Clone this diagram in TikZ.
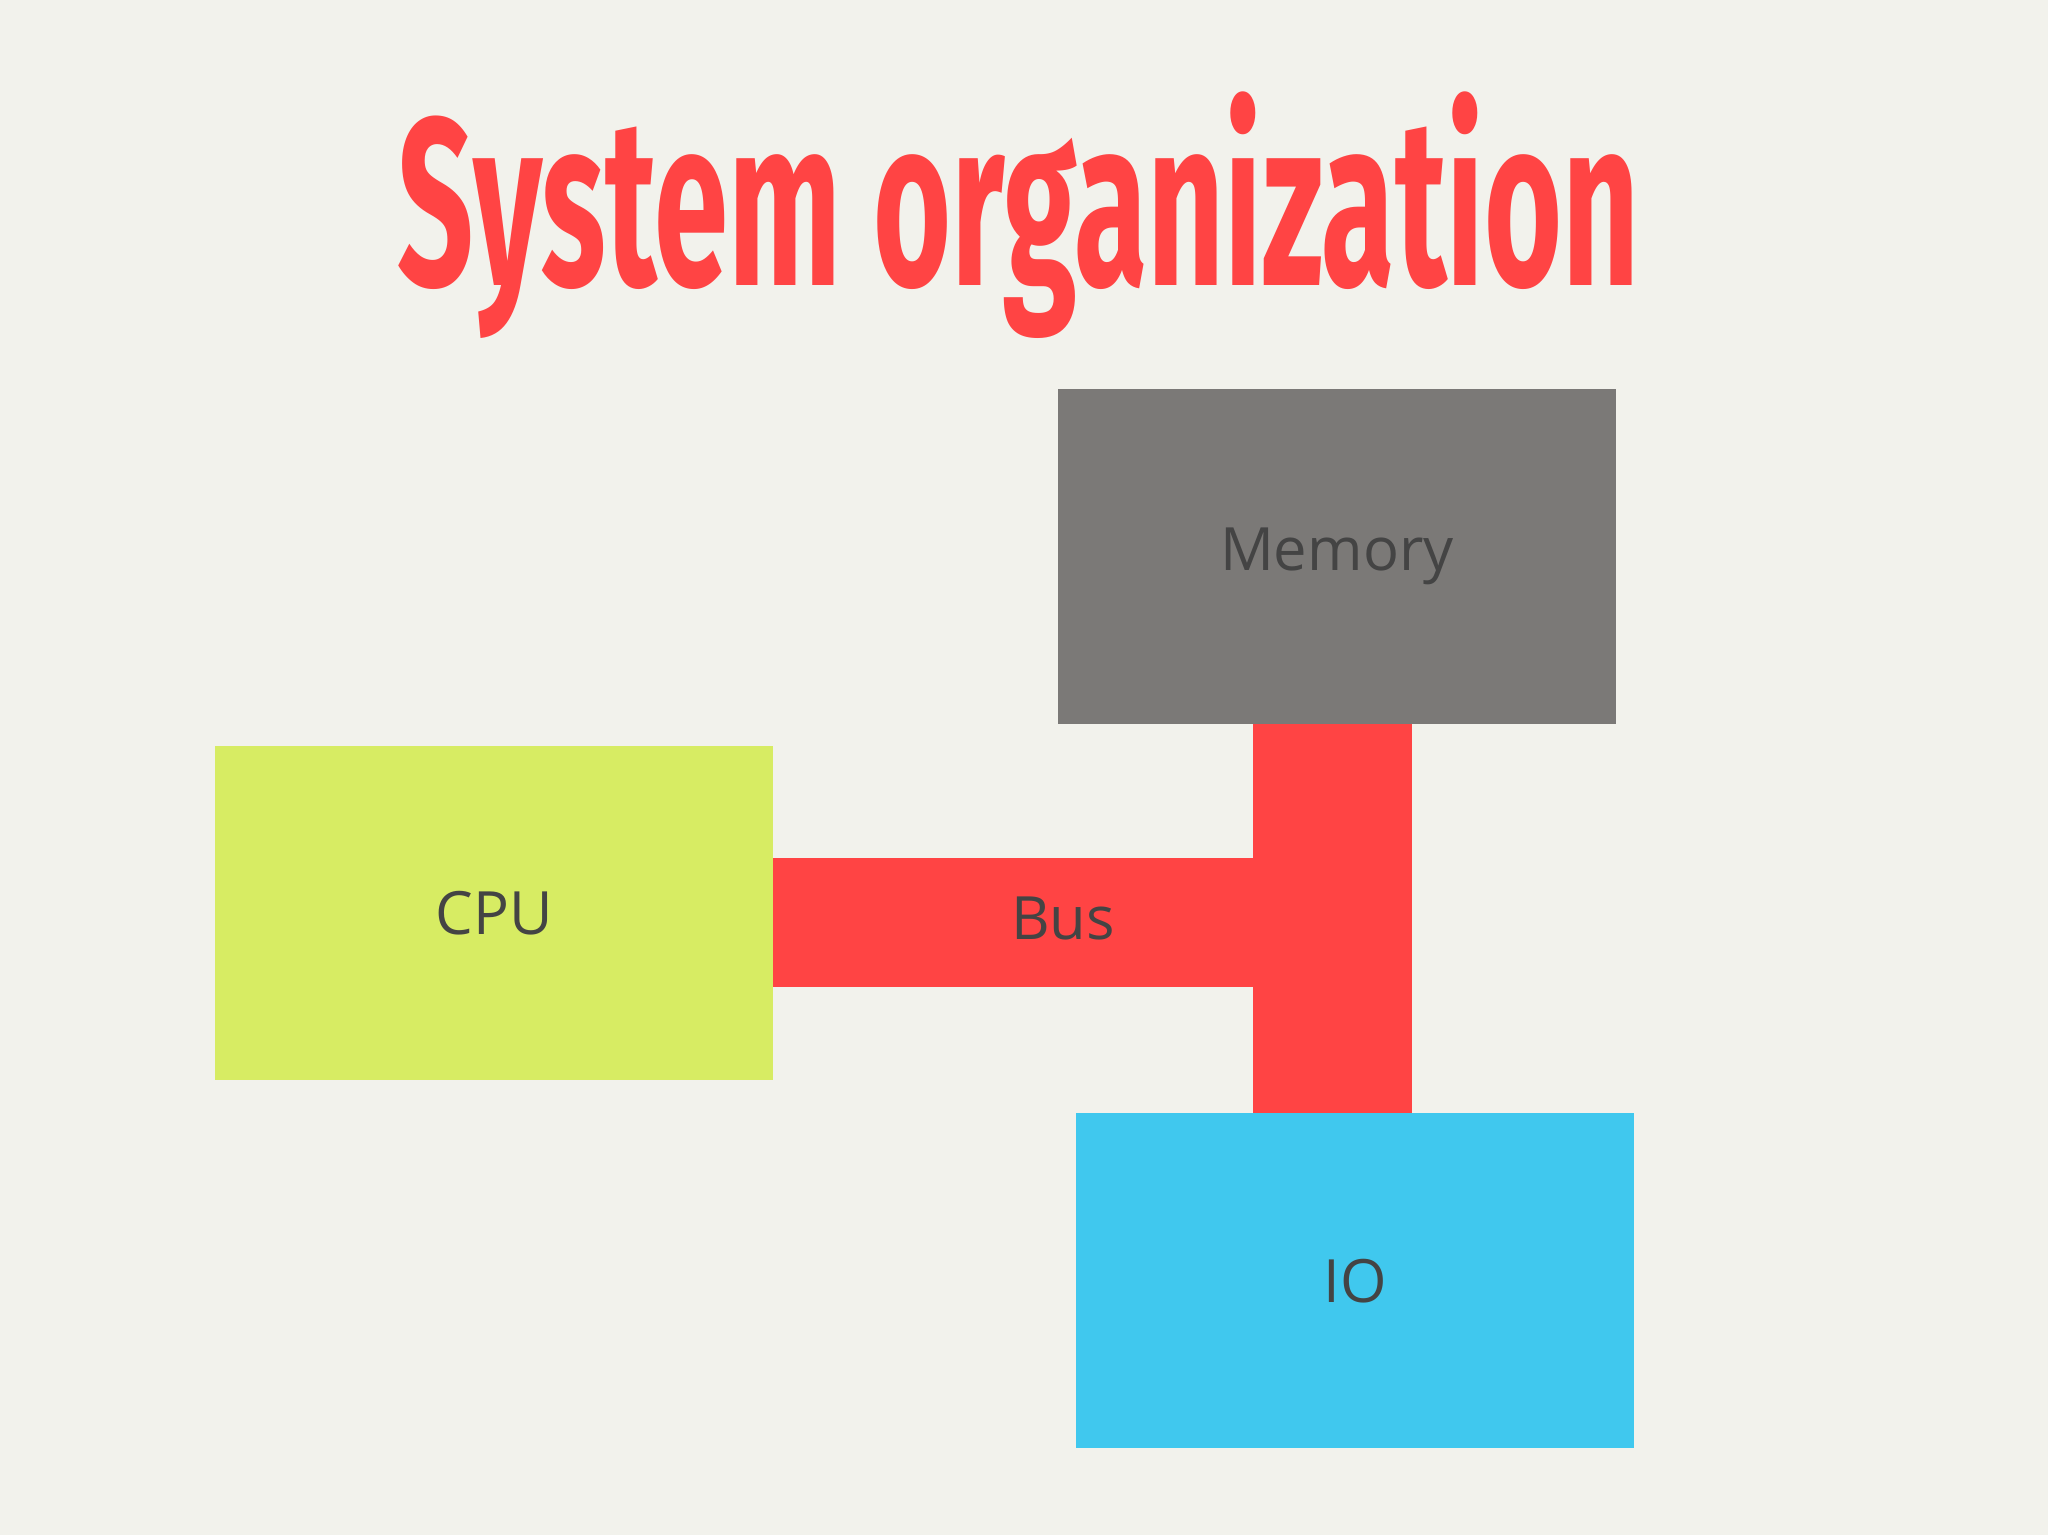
\documentclass[tikz,border=0pt]{standalone}
\usepackage{fontspec}
\setmainfont{Open Sans}
\newfontfamily\titlefont{Fira Sans}
\definecolor{bg}{HTML}{F2F2EC}
\definecolor{busred}{HTML}{FF4444}
\definecolor{memgray}{HTML}{7B7977}
\definecolor{cpugreen}{HTML}{D7EC63}
\definecolor{iocyan}{HTML}{40C8EE}
\definecolor{txt}{HTML}{444444}
\begin{document}
\begin{tikzpicture}[x=0.01cm,y=-0.01cm,
  blk/.style={draw=none,minimum width=4.27cm,minimum height=2.56cm,inner sep=0pt,text=txt,font=\fontsize{13}{15}\selectfont}]
\fill[bg] (0,0) rectangle (1568,1175);
\useasboundingbox (0,0) rectangle (1568,1175);
\node (title) at (780,165) {\titlefont\bfseries\fontsize{52}{60}\selectfont\color{busred}\scalebox{0.56}[1]{System organization}};
\fill[busred] (592,657) rectangle (960,756);
\fill[busred] (959,554) rectangle (1081,853);
\node[blk,fill=memgray] (mem) at (1023.5,426) {Memory};
\node[blk,fill=cpugreen] (cpu) at (378.5,699) {CPU};
\node[blk,fill=iocyan] (io) at (1037.5,980.5) {IO};
\node[text=txt,font=\fontsize{13}{15}\selectfont] (bus) at (814,703) {Bus};
\end{tikzpicture}
\end{document}
